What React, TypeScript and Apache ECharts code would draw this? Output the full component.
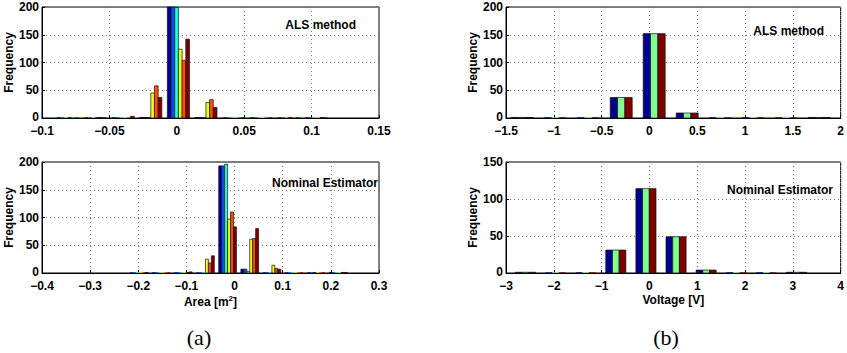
import React, { useEffect, useRef } from "react";
import * as echarts from "echarts";

// jet colormap samples used by MATLAB's grouped hist
const colors6 = ["#00008F", "#0050FF", "#20FFDF", "#EFFF10", "#FF5000", "#800000"];
const colors3 = ["#00008F", "#80FF8F", "#800000"];

// (a) top: ALS method, area error
const areaAlsBins = [-0.0808, -0.0603, -0.0398, -0.0193, 0.0012, 0.0216, 0.0421, 0.0626, 0.083, 0.1035];
const areaAlsCounts = [
  [0, 0, 0, 1, 200, 1, 0, 0, 0, 0],
  [0, 0, 0, 1, 200, 1, 0, 0, 0, 0],
  [0, 0, 0, 1, 199, 1, 0, 0, 0, 0],
  [1, 1, 0, 45, 124, 28, 0, 0, 1, 0],
  [0, 1, 0, 58, 104, 33, 0, 0, 0, 1],
  [0, 0, 3, 37, 142, 19, 0, 0, 0, 0],
];

// (a) bottom: Nominal Estimator, area error
const areaNomBins = [-0.1985, -0.1525, -0.1065, -0.0605, -0.0145, 0.0315, 0.0775, 0.1235, 0.1695, 0.2155];
const areaNomCounts = [
  [0, 0, 0, 0, 193, 7, 0, 0, 0, 1],
  [0, 0, 0, 0, 193, 7, 0, 0, 0, 0],
  [0, 0, 0, 0, 196, 3, 0, 0, 1, 0],
  [0, 0, 0, 25, 97, 61, 14, 0, 0, 0],
  [0, 0, 1, 18, 110, 62, 8, 0, 0, 1],
  [1, 0, 2, 31, 83, 80, 7, 0, 0, 1],
];

// (b) top: ALS method, voltage error
const voltAlsBins = [-1.33, -0.985, -0.64, -0.295, 0.05, 0.395, 0.74, 1.085, 1.43, 1.775];
const voltAlsCounts = [
  [1, 0, 0, 37, 152, 9, 0, 0, 0, 1],
  [1, 0, 0, 37, 152, 9, 0, 0, 0, 1],
  [1, 0, 0, 37, 152, 9, 0, 0, 0, 1],
];

// (b) bottom: Nominal Estimator, voltage error
const voltNomBins = [-2.593, -1.963, -1.333, -0.703, -0.073, 0.557, 1.187, 1.817, 2.447, 3.077];
const voltNomCounts = [
  [1, 0, 0, 31, 114, 49, 4, 0, 0, 1],
  [1, 0, 0, 31, 114, 49, 4, 0, 0, 1],
  [1, 0, 0, 31, 114, 49, 4, 0, 0, 1],
];

const xRanges = [
  { min: -0.1, max: 0.15, interval: 0.05 },
  { min: -1.5, max: 2, interval: 0.5 },
  { min: -0.4, max: 0.3, interval: 0.1 },
  { min: -3, max: 4, interval: 1 },
];
const yMaxes = [200, 200, 200, 150];
const panelLabels = ["ALS method", "ALS method", "Nominal Estimator", "Nominal Estimator"];

const FONT = "'Liberation Sans', Arial, Helvetica, sans-serif";
const FS = 12;
const FS_LABEL = 12;

function makeSeries(panel: number, bins: number[], counts: number[][], colors: string[]) {
  const n = counts.length;
  const binWidth = bins[1] - bins[0];
  const groupFrac = Math.min(0.8, n / (n + 1.5));
  const bw = (binWidth * groupFrac) / n;
  return counts.map((vals, k) => ({
    type: "custom",
    xAxisIndex: panel,
    yAxisIndex: panel,
    silent: true,
    data: bins.map((c, i) => [c, vals[i]]),
    renderItem: (params: any, api: any) => {
      const c = api.value(0);
      const v = api.value(1);
      const x0 = c - (binWidth * groupFrac) / 2 + k * bw;
      const p0 = api.coord([x0, v]);
      const p1 = api.coord([x0 + bw, 0]);
      const cs = params.coordSys;
      const color = colors[k];
      if (v === 0) {
        return {
          type: "rect",
          shape: { x: p0[0], y: p1[1] - 1, width: p1[0] - p0[0], height: 1 },
          style: { fill: color, opacity: 0.7 },
        };
      }
      const rect = { x: p0[0], y: p0[1], width: p1[0] - p0[0], height: p1[1] - p0[1] };
      const clipped = echarts.graphic.clipRectByRect(rect, {
        x: cs.x,
        y: cs.y,
        width: cs.width,
        height: cs.height,
      });
      if (!clipped) return null;
      return {
        type: "rect",
        shape: clipped,
        style: { fill: color, stroke: "#111", lineWidth: 0.7 },
      };
    },
  }));
}

function fmt(v: number) {
  const s = String(parseFloat(v.toFixed(4)));
  return s.replace("-", "\u2212");
}

export default function App() {
  const ref = useRef<HTMLDivElement>(null);
  useEffect(() => {
    if (!ref.current) return;
    const chart = echarts.init(ref.current, null, { renderer: "svg" });
    const grids = [
      { left: 42, top: 7, width: 337, height: 111 },
      { left: 506, top: 7, width: 336, height: 111 },
      { left: 42, top: 162, width: 337, height: 111 },
      { left: 506, top: 162, width: 336, height: 111 },
    ].map((g) => ({ ...g, show: true, borderColor: "#000", borderWidth: 1, backgroundColor: "#fff" }));

    const xNames = ["", "", "Area [m{sup|2}]", "Voltage [V]"];
    const xAxis = xRanges.map((r, i) => ({
      type: "value",
      gridIndex: i,
      min: r.min,
      max: r.max,
      interval: r.interval,
      name: xNames[i],
      nameLocation: "middle",
      nameGap: 21,
      nameTextStyle: {
        fontFamily: FONT,
        fontWeight: "bold",
        fontSize: FS_LABEL,
        color: "#000",
        rich: {
          sup: { fontSize: 8, fontWeight: "bold", fontFamily: FONT, color: "#000", verticalAlign: "top", padding: [0, 0, 7, 0] },
        },
      },
      axisLine: { show: true, onZero: false, lineStyle: { color: "#000", width: 1 } },
      axisTick: { show: true, inside: true, length: 3, lineStyle: { color: "#000" } },
      axisLabel: {
        margin: 8,
        fontFamily: FONT,
        fontWeight: "bold",
        fontSize: FS,
        lineHeight: 10,
        color: "#000",
        formatter: (v: number) => fmt(v),
        showMinLabel: true,
        showMaxLabel: true,
      },
      splitLine: { show: true, lineStyle: { type: [1, 3], color: "#777", width: 1 } },
    }));

    const yAxis = yMaxes.map((m, i) => ({
      type: "value",
      gridIndex: i,
      min: 0,
      max: m,
      interval: 50,
      name: "Frequency",
      nameLocation: "middle",
      nameRotate: 90,
      nameGap: 25,
      nameTextStyle: { fontFamily: FONT, fontWeight: "bold", fontSize: FS_LABEL, color: "#000" },
      axisLine: { show: true, onZero: false, lineStyle: { color: "#000", width: 1 } },
      axisTick: { show: true, inside: true, length: 3, lineStyle: { color: "#000" } },
      axisLabel: {
        margin: 3,
        fontFamily: FONT,
        fontWeight: "bold",
        fontSize: FS,
        lineHeight: 10,
        color: "#000",
        formatter: (v: number) => (v === 0 ? "{z|0}" : fmt(v)),
        rich: {
          z: { fontFamily: FONT, fontWeight: "bold", fontSize: FS, color: "#000", lineHeight: 10, padding: [0, 0, 3, 0] },
        },
      },
      splitLine: { show: true, lineStyle: { type: [1, 3], color: "#777", width: 1 } },
    }));

    const series = [
      ...makeSeries(0, areaAlsBins, areaAlsCounts, colors6),
      ...makeSeries(1, voltAlsBins, voltAlsCounts, colors3),
      ...makeSeries(2, areaNomBins, areaNomCounts, colors6),
      ...makeSeries(3, voltNomBins, voltNomCounts, colors3),
    ];

    const labelPos = [
      { x: 356, y: 25 },
      { x: 824, y: 31 },
      { x: 378, y: 183 },
      { x: 833, y: 190 },
    ];
    const graphic: any[] = panelLabels.map((t, i) => ({
      type: "text",
      x: labelPos[i].x,
      y: labelPos[i].y,
      z: 100,
      style: {
        text: t,
        fontFamily: FONT,
        fontWeight: "bold",
        fontSize: FS_LABEL,
        fill: "#000",
        align: "right",
        verticalAlign: "middle",
      },
    }));
    graphic.push(
      {
        type: "text",
        x: 199,
        y: 337,
        style: { text: "(a)", fontFamily: "'Liberation Serif', 'Times New Roman', serif", fontSize: 22, fill: "#000", align: "center", verticalAlign: "middle" },
      },
      {
        type: "text",
        x: 666,
        y: 337,
        style: { text: "(b)", fontFamily: "'Liberation Serif', 'Times New Roman', serif", fontSize: 22, fill: "#000", align: "center", verticalAlign: "middle" },
      }
    );

    chart.setOption({
      animation: false,
      backgroundColor: "#fff",
      grid: grids,
      xAxis,
      yAxis,
      series,
      graphic,
    });
    return () => chart.dispose();
  }, []);
  return (
    <div
      ref={ref}
      style={{ position: "fixed", left: 0, top: 0, width: 847, height: 353, background: "#fff" }}
    />
  );
}
